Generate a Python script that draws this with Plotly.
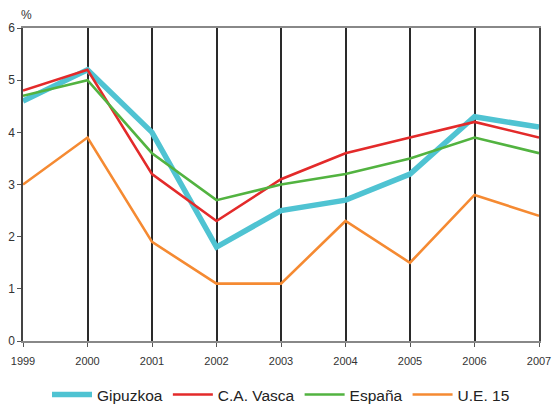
import plotly.graph_objects as go

years = [1999, 2000, 2001, 2002, 2003, 2004, 2005, 2006, 2007]
gipuzkoa = [4.6, 5.2, 4.0, 1.8, 2.5, 2.7, 3.2, 4.3, 4.1]
ca_vasca = [4.8, 5.2, 3.2, 2.3, 3.1, 3.6, 3.9, 4.2, 3.9]
espana = [4.7, 5.0, 3.6, 2.7, 3.0, 3.2, 3.5, 3.9, 3.6]
ue15 = [3.0, 3.9, 1.9, 1.1, 1.1, 2.3, 1.5, 2.8, 2.4]

series = [
    ("Gipuzkoa", gipuzkoa, "#4fc3d2", 5.5),
    ("C.A. Vasca", ca_vasca, "#e32a2a", 2.6),
    ("España", espana, "#52b340", 2.6),
    ("U.E. 15", ue15, "#f58a32", 2.6),
]

fig = go.Figure()
for name, vals, color, w in series:
    fig.add_trace(go.Scatter(x=years, y=vals, mode="lines", name=name,
                             line=dict(color=color, width=w)))

fig.update_layout(
    width=554, height=405, autosize=False,
    margin=dict(l=23, r=15, t=28, b=64, autoexpand=False),
    paper_bgcolor="white", plot_bgcolor="white",
    font=dict(family="Liberation Sans, Arial, sans-serif", color="#333333", size=11),
    showlegend=True,
    legend=dict(orientation="h", x=0.5, xanchor="center", y=-0.118, yanchor="top",
                font=dict(size=15.5, color="#222222"), itemwidth=40, tracegroupgap=0),
    annotations=[dict(text="%", x=0, xref="paper", y=1, yref="paper",
                      xanchor="left", yanchor="bottom", yshift=4, xshift=-4,
                      showarrow=False, font=dict(size=12, color="#333333"))],
)
fig.update_xaxes(range=[1999, 2007], tickmode="array", tickvals=years,
                 ticktext=[str(y) for y in years], automargin=False,
                 showgrid=True, gridcolor="#2a2a2a", gridwidth=1.5,
                 showline=True, linecolor="#888888", linewidth=1.5, mirror=True,
                 ticks="outside", ticklen=4, tickcolor="#555555",
                 ticklabelstandoff=5,
                 tickfont=dict(size=11), zeroline=False)
fig.update_yaxes(range=[0, 6], dtick=1, showgrid=False, automargin=False,
                 showline=True, linecolor="#444444", linewidth=1.5, mirror=True,
                 ticks="outside", ticklen=4, tickcolor="#555555",
                 tickfont=dict(size=12), zeroline=False)

fig.write_html("out.html",
               config={"displayModeBar": False, "responsive": False},
               post_script="document.body.style.margin='0';document.body.style.overflow='hidden';")
